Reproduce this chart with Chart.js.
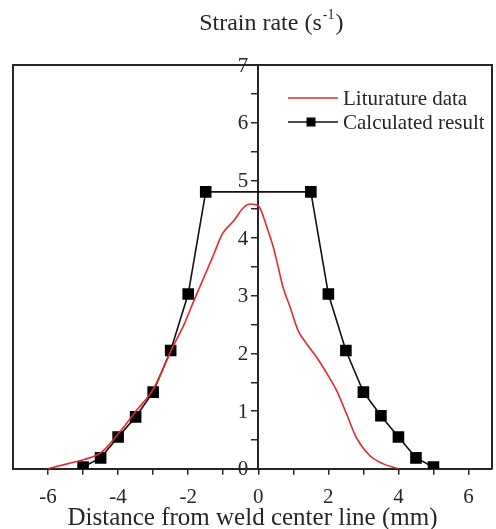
<!DOCTYPE html>
<html><head><meta charset="utf-8">
<script src="https://cdn.jsdelivr.net/npm/chart.js@4/dist/chart.umd.min.js"></script>
<style>html,body{margin:0;padding:0;background:#fff;}canvas{display:block;}</style>
</head><body>
<canvas id="c" width="496" height="529"></canvas>
<script>
// ---- data ----
const litX = [-6, -5.43, -4.97, -4.49, -3.98, -3.49, -2.98, -2.45, -2.12, -1.84, -1.55, -1.27, -1.03, -0.7, -0.42, -0.23, 0, 0.25, 0.43, 0.57, 0.71, 0.91, 1.14, 1.4, 1.67, 2.0, 2.24, 2.52, 2.8, 3.18, 3.55, 4.0];
const litY = [0, 0.09, 0.16, 0.28, 0.62, 1.0, 1.4, 2.1, 2.5, 2.91, 3.32, 3.72, 4.07, 4.3, 4.53, 4.59, 4.56, 4.18, 3.84, 3.49, 3.14, 2.8, 2.39, 2.15, 1.93, 1.61, 1.35, 0.95, 0.54, 0.23, 0.09, 0];
const calcX = [-5, -4.5, -4, -3.5, -3, -2.5, -2, -1.5, 1.5, 2, 2.5, 3, 3.5, 4, 4.5, 5];
const calcY = [0.03, 0.19, 0.55, 0.9, 1.33, 2.05, 3.03, 4.8, 4.8, 3.03, 2.05, 1.33, 0.92, 0.55, 0.19, 0.03];
const xTickLabels = [-6, -4, -2, 0, 2, 4, 6];
const yTickLabels = [0, 1, 2, 3, 4, 5, 6, 7];
const seriesNames = ['Liturature data', 'Calculated result'];
const topTitle = ['Strain rate (s', '-1', ')'];
const xTitle = 'Distance from weld center line (mm)';

const FONT = '"Liberation Serif", "Times New Roman", serif';
const INK = '#262626';
const RED = 'rgb(232,40,48)';

const decorPlugin = {
  id: 'decor',
  afterDraw(chart) {
    const ctx = chart.ctx, a = chart.chartArea;
    const xs = chart.scales.x, ys = chart.scales.y;
    ctx.save();
    // frame
    ctx.strokeStyle = INK; ctx.lineWidth = 2;
    ctx.beginPath();
    ctx.moveTo(a.left, a.bottom); ctx.lineTo(a.left, a.top);
    ctx.lineTo(a.right, a.top); ctx.lineTo(a.right, a.bottom);
    ctx.stroke();
    // y tick labels (left of the centre axis), taken from the y scale ticks
    const x0 = xs.getPixelForValue(0);
    ctx.fillStyle = INK; ctx.font = '21px ' + FONT;
    ctx.textAlign = 'right'; ctx.textBaseline = 'middle';
    ys.ticks.forEach(t => {
      if (yTickLabels.includes(t.value)) ctx.fillText(String(t.value), x0 - 10, ys.getPixelForValue(t.value) + 1);
    });
    // top title with superscript
    ctx.textBaseline = 'alphabetic';
    const big = '24px ' + FONT, small = '14px ' + FONT;
    ctx.font = big; const w1 = ctx.measureText(topTitle[0]).width; const w3 = ctx.measureText(topTitle[2]).width;
    ctx.font = small; const w2 = ctx.measureText(topTitle[1]).width + 2;
    const cx = x0 + 13;
    let x = cx - (w1 + w2 + w3) / 2; const y = 30;
    ctx.textAlign = 'left';
    ctx.font = big; ctx.fillText(topTitle[0], x, y); x += w1 + 1;
    ctx.font = small; ctx.fillText(topTitle[1], x, y - 11); x += w2 - 1;
    ctx.font = big; ctx.fillText(topTitle[2], x, y);
    // legend
    const ds = chart.data.datasets;
    const lx1 = a.right - 204, lx2 = a.right - 154, tx = a.right - 149;
    const rows = [a.top + 33, a.top + 57];
    ctx.font = '21px ' + FONT; ctx.textBaseline = 'middle';
    ds.forEach((d, i) => {
      const ry = rows[i];
      ctx.strokeStyle = d.borderColor; ctx.lineWidth = 1.6;
      ctx.beginPath(); ctx.moveTo(lx1, ry); ctx.lineTo(lx2, ry); ctx.stroke();
      if (d.pointRadius > 0) {
        ctx.fillStyle = d.pointBackgroundColor;
        const s = 9; const mx = (lx1 + lx2) / 2 - 2;
        ctx.fillRect(mx - s / 2, ry - s / 2, s, s);
      }
      ctx.fillStyle = INK; ctx.fillText(seriesNames[i], tx, ry + 1);
    });
    ctx.restore();
  }
};

new Chart(document.getElementById('c'), {
  type: 'scatter',
  data: {
    datasets: [
      {
        label: seriesNames[0],
        data: litX.map((v, i) => ({x: v, y: litY[i]})),
        showLine: true, borderColor: RED, borderWidth: 1.6,
        pointRadius: 0, cubicInterpolationMode: 'monotone', fill: false
      },
      {
        label: seriesNames[1],
        data: calcX.map((v, i) => ({x: v, y: calcY[i]})),
        showLine: true, borderColor: '#111', borderWidth: 1.6,
        pointStyle: 'rect', pointRadius: 8.2, pointBackgroundColor: '#000',
        pointBorderColor: '#000', pointBorderWidth: 0, tension: 0, fill: false
      }
    ]
  },
  options: {
    responsive: false, animation: false, devicePixelRatio: 1,
    layout: {autoPadding: false, padding: {left: 13, right: 4, top: 65, bottom: -2}},
    plugins: {legend: {display: false}, tooltip: {enabled: false}},
    scales: {
      x: {
        type: 'linear', position: 'bottom', min: -7, max: 6.67,
        afterBuildTicks(s) {
          const t = [];
          for (let v = -6; v <= 6; v++) t.push({value: v});
          s.ticks = t;
        },
        afterFit(s) { s.paddingLeft = 0; s.paddingRight = 0; },
        grid: {drawOnChartArea: false, drawTicks: true, tickLength: 6, color: INK, lineWidth: 1.5},
        border: {display: true, color: INK, width: 2},
        ticks: {
          autoSkip: false, maxRotation: 0, padding: 10, color: INK,
          font: {family: FONT, size: 21, lineHeight: 1.2},
          callback: (v) => xTickLabels.includes(v) ? String(v) : ''
        },
        title: {display: true, text: xTitle, color: INK, font: {family: FONT, size: 25, lineHeight: 1}, padding: {top: -14, bottom: 0}}
      },
      y: {
        type: 'linear', position: {x: 0}, min: 0, max: 7,
        afterBuildTicks(s) {
          const t = [];
          for (let v = 0; v <= 14; v++) t.push({value: v / 2});
          s.ticks = t;
        },
        grid: {drawOnChartArea: false, drawTicks: true, tickLength: 6, color: INK, lineWidth: 1.5},
        border: {display: true, color: INK, width: 2},
        ticks: {display: false}
      }
    }
  },
  plugins: [decorPlugin]
});
</script>
</body></html>
